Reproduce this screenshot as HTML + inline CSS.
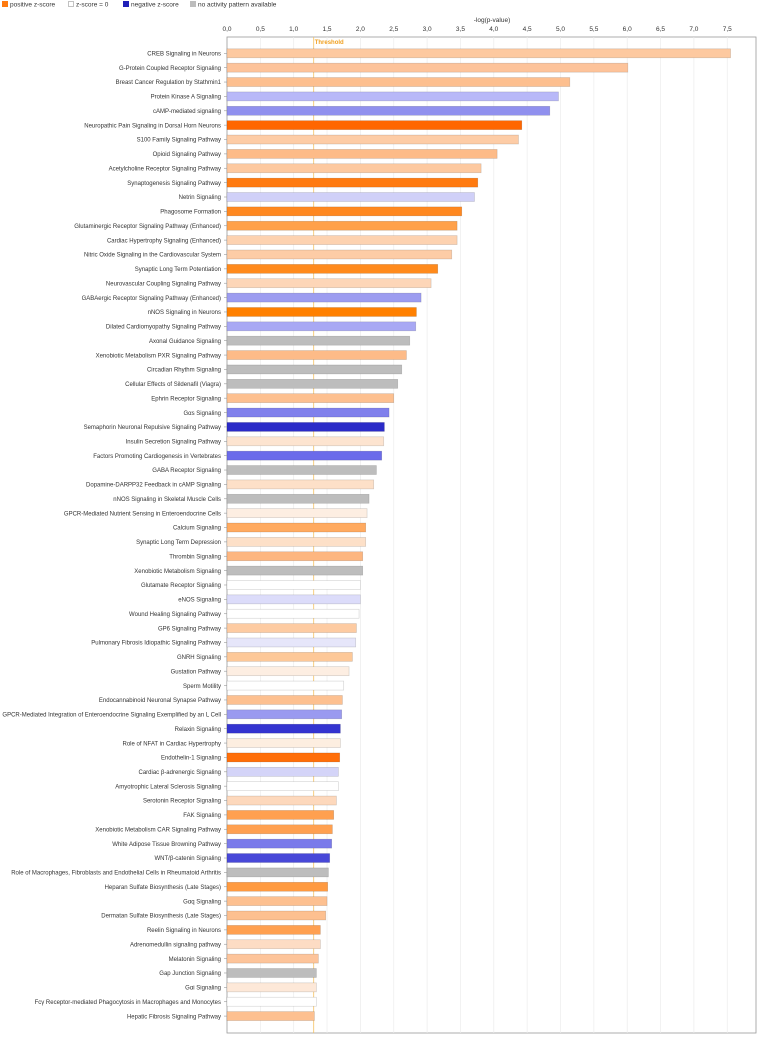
<!DOCTYPE html>
<html><head><meta charset="utf-8"><style>
body{margin:0;background:#fff;width:757px;height:1035px;overflow:hidden;font-family:"Liberation Sans",sans-serif}
svg text{font-family:"Liberation Sans",sans-serif}
</style></head><body>
<svg id="chart" width="757" height="1035" xmlns="http://www.w3.org/2000/svg">
<g font-size="6.5" fill="#333">
<rect x="2" y="1" width="6" height="6" fill="#ff7a10"/>
<text x="10" y="6.5">positive z-score</text>
<rect x="68.5" y="1.5" width="5" height="5" fill="#fff" stroke="#999" stroke-width="0.6"/>
<text x="76" y="6.5">z-score = 0</text>
<rect x="123" y="1" width="6" height="6" fill="#2020b8"/>
<text x="131" y="6.5">negative z-score</text>
<rect x="190" y="1" width="6" height="6" fill="#bdbdbd"/>
<text x="198" y="6.5">no activity pattern available</text>
</g>
<text x="492" y="22" font-size="6.5" fill="#333" text-anchor="middle">-log(p-value)</text>
<g id="grid"></g><g id="ticks"></g><g id="bars"></g><g id="labels"></g>
</svg>
<script>
const categories=["CREB Signaling in Neurons","G-Protein Coupled Receptor Signaling","Breast Cancer Regulation by Stathmin1","Protein Kinase A Signaling","cAMP-mediated signaling","Neuropathic Pain Signaling in Dorsal Horn Neurons","S100 Family Signaling Pathway","Opioid Signaling Pathway","Acetylcholine Receptor Signaling Pathway","Synaptogenesis Signaling Pathway","Netrin Signaling","Phagosome Formation","Glutaminergic Receptor Signaling Pathway (Enhanced)","Cardiac Hypertrophy Signaling (Enhanced)","Nitric Oxide Signaling in the Cardiovascular System","Synaptic Long Term Potentiation","Neurovascular Coupling Signaling Pathway","GABAergic Receptor Signaling Pathway (Enhanced)","nNOS Signaling in Neurons","Dilated Cardiomyopathy Signaling Pathway","Axonal Guidance Signaling","Xenobiotic Metabolism PXR Signaling Pathway","Circadian Rhythm Signaling","Cellular Effects of Sildenafil (Viagra)","Ephrin Receptor Signaling","Gαs Signaling","Semaphorin Neuronal Repulsive Signaling Pathway","Insulin Secretion Signaling Pathway","Factors Promoting Cardiogenesis in Vertebrates","GABA Receptor Signaling","Dopamine-DARPP32 Feedback in cAMP Signaling","nNOS Signaling in Skeletal Muscle Cells","GPCR-Mediated Nutrient Sensing in Enteroendocrine Cells","Calcium Signaling","Synaptic Long Term Depression","Thrombin Signaling","Xenobiotic Metabolism Signaling","Glutamate Receptor Signaling","eNOS Signaling","Wound Healing Signaling Pathway","GP6 Signaling Pathway","Pulmonary Fibrosis Idiopathic Signaling Pathway","GNRH Signaling","Gustation Pathway","Sperm Motility","Endocannabinoid Neuronal Synapse Pathway","GPCR-Mediated Integration of Enteroendocrine Signaling Exemplified by an L Cell","Relaxin Signaling","Role of NFAT in Cardiac Hypertrophy","Endothelin-1 Signaling","Cardiac β-adrenergic Signaling","Amyotrophic Lateral Sclerosis Signaling","Serotonin Receptor Signaling","FAK Signaling","Xenobiotic Metabolism CAR Signaling Pathway","White Adipose Tissue Browning Pathway","WNT/β-catenin Signaling","Role of Macrophages, Fibroblasts and Endothelial Cells in Rheumatoid Arthritis","Heparan Sulfate Biosynthesis (Late Stages)","Gαq Signaling","Dermatan Sulfate Biosynthesis (Late Stages)","Reelin Signaling in Neurons","Adrenomedullin signaling pathway","Melatonin Signaling","Gap Junction Signaling","Gαi Signaling","Fcγ Receptor-mediated Phagocytosis in Macrophages and Monocytes","Hepatic Fibrosis Signaling Pathway"];
const values=[7.55,6.01,5.14,4.97,4.84,4.42,4.37,4.05,3.81,3.76,3.71,3.52,3.45,3.45,3.37,3.16,3.06,2.91,2.84,2.83,2.74,2.69,2.62,2.56,2.5,2.43,2.36,2.35,2.32,2.24,2.2,2.13,2.1,2.08,2.08,2.035,2.035,2.0,2.0,1.98,1.94,1.93,1.88,1.83,1.75,1.73,1.72,1.7,1.7,1.69,1.67,1.67,1.64,1.6,1.58,1.57,1.54,1.52,1.51,1.5,1.48,1.4,1.4,1.37,1.34,1.34,1.34,1.31];
const colors=["#fdc9a0","#fdc39a","#fdbf8f","#b8b8f8","#9090ee","#ff6600","#fdcca6","#fdbb88","#fdc9a0","#ff7a10","#d0d0f8","#ff8820","#ffa14a","#fdd2b0","#fdcca6","#ff8a1c","#fdd6b8","#9c9cf0","#ff8000","#a8a8f4","#bdbdbd","#fdbb88","#bdbdbd","#bdbdbd","#fdc090","#8080ec","#2b2bc8","#fde4d0","#6b6bea","#bdbdbd","#fde0c8","#bdbdbd","#fdeee2","#ffaa60","#fde0c8","#fdb680","#bdbdbd","#ffffff","#dcdcfa","#ffffff","#fdcba2","#e6e6fa","#fdc898","#fdeee2","#ffffff","#fdc090","#9a9af0","#3434d0","#fdeee0","#ff6e08","#d4d4f8","#ffffff","#fdd8bc","#ffa050","#ffa050","#7a7aea","#4848d8","#bdbdbd","#ff9a40","#fdc090","#fdc090","#ffa050","#fddcc4","#fdc49a","#bdbdbd","#fde8d8","#ffffff","#fdc090"];
const tickValues=[0,0.5,1,1.5,2,2.5,3,3.5,4,4.5,5,5.5,6,6.5,7,7.5];
const tickLabels=["0,0","0,5","1,0","1,5","2,0","2,5","3,0","3,5","4,0","4,5","5,0","5,5","6,0","6,5","7,0","7,5"];
const threshold=1.3;
const NS="http://www.w3.org/2000/svg";
const X0=227,PX=66.7,TOP=37,BOTTOM=1033,ROW0=53.3,STEP=14.37,BH=9;
function xs(v){return X0+v*PX;}
function ys(i){return ROW0+i*STEP;}
function mk(t,a,p){const e=document.createElementNS(NS,t);for(const k in a)e.setAttribute(k,a[k]);p.appendChild(e);return e;}
const grid=document.getElementById('grid'),ticks=document.getElementById('ticks'),bars=document.getElementById('bars'),labels=document.getElementById('labels');
const frame=mk('rect',{x:X0,y:TOP,width:756-X0,height:BOTTOM-TOP,fill:'none',stroke:'#999','stroke-width':0.8},grid);


for(let v=0.5;v<=7.9;v+=0.5){const l=mk('line',{x1:xs(v),x2:xs(v),y1:TOP,y2:BOTTOM,stroke:'#ececec','stroke-width':0.7},grid);

}
tickValues.forEach((v,i)=>{const t=mk('text',{x:xs(v),y:31,'font-size':6.5,fill:'#333','text-anchor':'middle'},ticks);t.textContent=tickLabels[i];

});
const th=mk('line',{x1:xs(threshold),x2:xs(threshold),y1:TOP,y2:BOTTOM,stroke:'#f5c060','stroke-width':0.8},grid);


const tt=mk('text',{x:xs(threshold)+1,y:44,'font-size':6,fill:'#f0a020','font-weight':'bold'},grid);tt.textContent='Threshold';


categories.forEach((c,i)=>{const y=ys(i);
const r=mk('rect',{x:X0,y:y-BH/2,width:xs(values[i])-X0,height:BH,fill:colors[i],stroke:'rgba(0,0,0,0.18)','stroke-width':0.6},bars);


const t=mk('text',{x:X0-6,y:y+2.2,'font-size':6,fill:'#333','text-anchor':'end'},labels);t.textContent=c;


const tk=mk('line',{x1:X0-3,x2:X0,y1:y,y2:y,stroke:'#999','stroke-width':0.6},labels);

});
</script>
</body></html>
